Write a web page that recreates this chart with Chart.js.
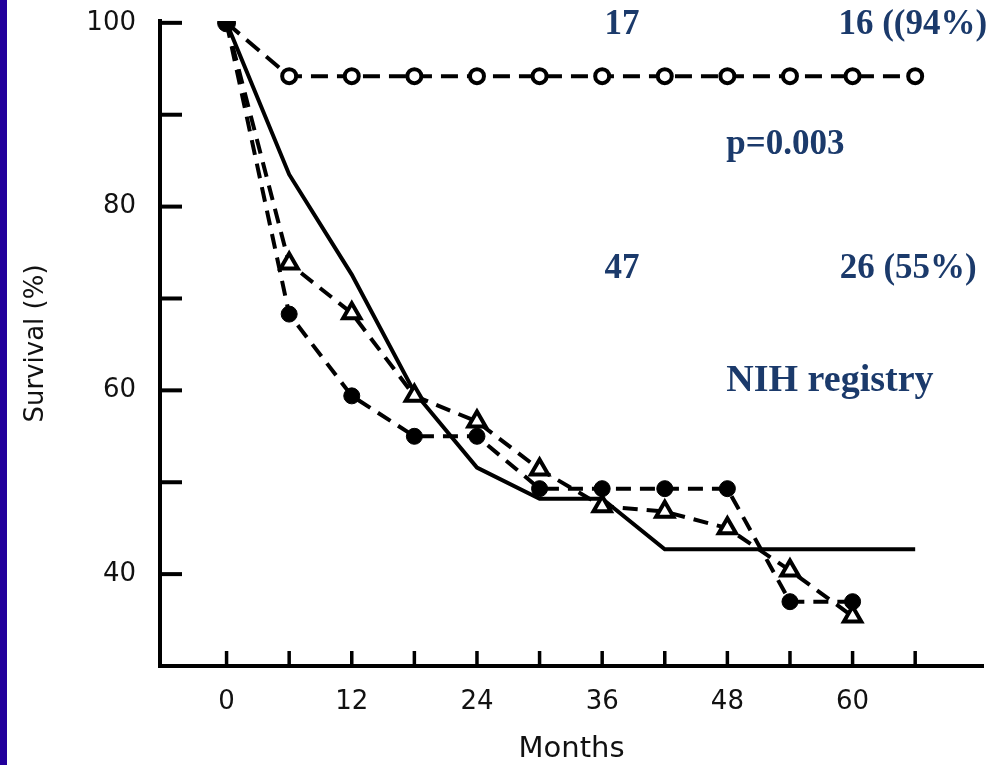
<!DOCTYPE html>
<html lang="en">
<head>
<meta charset="UTF-8" />
<title>Survival (%)</title>
<script src="https://cdn.jsdelivr.net/npm/chart.js"></script>
<style>
  html, body { margin: 0; padding: 0; background: #fff; }
  #wrap { position: relative; width: 997px; height: 765px; overflow: hidden; }
  #sideBar { position: absolute; left: 0; top: 0; width: 7px; height: 765px; background: #22009c; z-index: 2; }
  #survivalChart { position: absolute; left: 0; top: 0; }
</style>
</head>
<body>
<div id="wrap">
  <div id="sideBar"></div>
  <canvas id="survivalChart" width="997" height="765"></canvas>
</div>

<script>
// follow-up months
var months = [0, 6, 12, 18, 24, 30, 36, 42, 48, 54, 60, 66];
var monthsShort = [0, 6, 12, 18, 24, 30, 36, 42, 48, 54, 60];
var monthsSolid = [0, 6, 12, 18, 24, 30, 36, 42, 66];

// survival (%) per group
var openCircle = [100, 94.2, 94.2, 94.2, 94.2, 94.2, 94.2, 94.2, 94.2, 94.2, 94.2, 94.2];
var filledCircle = [100, 68.3, 59.4, 55, 55, 49.3, 49.3, 49.3, 49.3, 37, 37];
var triangle = [100, 73.8, 68.4, 59.4, 56.6, 51.4, 47.4, 46.8, 45, 40.4, 35.4];
var solid = [100, 83.5, 72.6, 59.8, 51.6, 48.2, 48.2, 42.7, 42.7];

// axis ticks
var yTicks = [40, 50, 60, 70, 80, 90, 100];
var yLabelled = [40, 60, 80, 100];
var xTicks = [0, 6, 12, 18, 24, 30, 36, 42, 48, 54, 60, 66];
var xLabelled = [0, 12, 24, 36, 48, 60];

// text notes placed in data units
var notes = [
  { text: "17", x: 37.9, y: 99.75, align: "center", size: 35 },
  { text: "16 ((94%)", x: 72.9, y: 99.75, align: "right", size: 35 },
  { text: "p=0.003", x: 47.9, y: 86.7, align: "left", size: 35 },
  { text: "47", x: 37.9, y: 73.2, align: "center", size: 35 },
  { text: "26 (55%)", x: 71.9, y: 73.2, align: "right", size: 35 },
  { text: "NIH registry", x: 47.9, y: 61.0, align: "left", size: 38 }
];

function pts(xs, ys) {
  return ys.map(function (v, i) { return { x: xs[i], y: v }; });
}

Chart.defaults.font.family = "'DejaVu Sans', Arial, sans-serif";
Chart.defaults.color = "#111";

// inward tick marks on both axes
var innerTicks = {
  id: "innerTicks",
  afterDraw: function (chart) {
    var ctx = chart.ctx, xs = chart.scales.x, ys = chart.scales.y;
    var a = chart.chartArea;
    ctx.save();
    ctx.strokeStyle = "#000";
    ctx.lineWidth = 4;
    yTicks.forEach(function (v) {
      var py = ys.getPixelForValue(v);
      ctx.beginPath();
      ctx.moveTo(a.left, py);
      ctx.lineTo(a.left + 22, py);
      ctx.stroke();
    });
    ctx.lineWidth = 3.5;
    xTicks.forEach(function (v) {
      var px = xs.getPixelForValue(v);
      ctx.beginPath();
      ctx.moveTo(px, a.bottom);
      ctx.lineTo(px, a.bottom - 15);
      ctx.stroke();
    });
    ctx.restore();
  }
};

var noteText = {
  id: "noteText",
  afterDraw: function (chart) {
    var ctx = chart.ctx, xs = chart.scales.x, ys = chart.scales.y;
    ctx.save();
    ctx.fillStyle = "#1b3a6b";
    ctx.textBaseline = "middle";
    notes.forEach(function (n) {
      ctx.font = "bold " + n.size + "px 'Liberation Serif', 'Times New Roman', serif";
      ctx.textAlign = n.align;
      ctx.fillText(n.text, xs.getPixelForValue(n.x), ys.getPixelForValue(n.y));
    });
    ctx.restore();
  }
};

var ctx = document.getElementById("survivalChart").getContext("2d");

new Chart(ctx, {
  type: "line",
  data: {
    datasets: [
      {
        label: "filled",
        data: pts(monthsShort, filledCircle),
        borderColor: "#000",
        borderWidth: 4,
        borderDash: [15, 9],
        pointStyle: "circle",
        pointRadius: function (c) { return c.dataIndex === 0 ? 9 : 8; },
        pointBackgroundColor: "#000",
        pointBorderColor: "#000",
        pointBorderWidth: 1,
        tension: 0
      },
      {
        label: "triangle",
        data: pts(monthsShort, triangle),
        borderColor: "#000",
        borderWidth: 4,
        borderDash: [15, 9],
        pointStyle: "triangle",
        pointRadius: function (c) { return c.dataIndex === 0 ? 0 : 10; },
        pointBackgroundColor: "#fff",
        pointBorderColor: "#000",
        pointBorderWidth: 4,
        tension: 0
      },
      {
        label: "open",
        data: pts(months, openCircle),
        borderColor: "#000",
        borderWidth: 4,
        borderDash: [17, 9],
        pointStyle: "circle",
        pointRadius: function (c) { return c.dataIndex === 0 ? 0 : 7; },
        pointBackgroundColor: "#fff",
        pointBorderColor: "#000",
        pointBorderWidth: 4,
        tension: 0
      },
      {
        label: "solid",
        data: pts(monthsSolid, solid),
        borderColor: "#000",
        borderWidth: 4,
        pointRadius: 0,
        tension: 0
      }
    ]
  },
  options: {
    responsive: false,
    animation: false,
    layout: { padding: { left: 0, right: 12, top: 21, bottom: 0 } },
    plugins: {
      legend: { display: false },
      tooltip: { enabled: false }
    },
    scales: {
      x: {
        type: "linear",
        min: -6.38,
        max: 72.5,
        afterFit: function (s) { s.height = 99; s.paddingLeft = 0; s.paddingRight = 0; },
        afterBuildTicks: function (s) {
          s.ticks = xTicks.map(function (v) { return { value: v }; });
        },
        grid: { display: false, drawTicks: false },
        border: { display: true, color: "#000", width: 4 },
        ticks: {
          autoSkip: false,
          maxRotation: 0,
          padding: 21,
          font: { size: 26 },
          callback: function (v) { return xLabelled.indexOf(v) >= 0 ? String(v) : ""; }
        },
        title: {
          display: true,
          text: "Months",
          font: { size: 29, lineHeight: 1 },
          padding: { top: 0, bottom: 1 }
        }
      },
      y: {
        type: "linear",
        min: 30,
        max: 100.2,
        afterFit: function (s) { s.width = 160; s.paddingTop = 0; s.paddingBottom = 0; },
        afterBuildTicks: function (s) {
          s.ticks = yTicks.map(function (v) { return { value: v }; });
        },
        grid: { display: false, drawTicks: false },
        border: { display: true, color: "#000", width: 4 },
        ticks: {
          autoSkip: false,
          padding: 24,
          font: { size: 26 },
          callback: function (v) { return yLabelled.indexOf(v) >= 0 ? String(v) : ""; }
        },
        title: {
          display: true,
          text: "Survival (%)",
          font: { size: 26, lineHeight: 1 },
          padding: { top: 23, bottom: 0 }
        }
      }
    }
  },
  plugins: [innerTicks, noteText]
});
</script>
</body>
</html>
